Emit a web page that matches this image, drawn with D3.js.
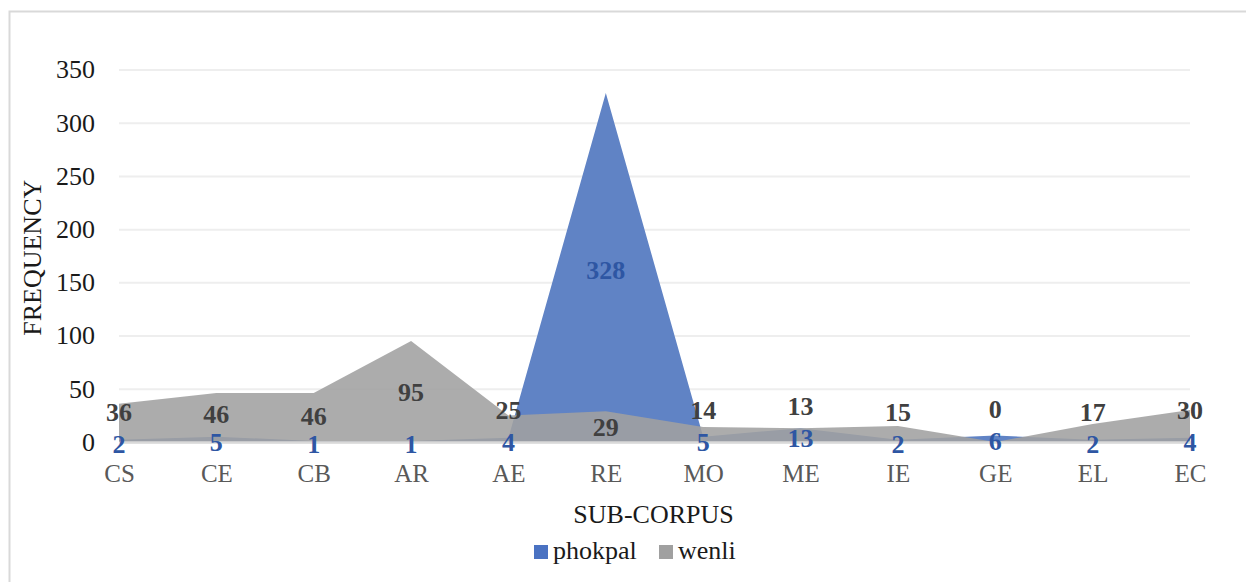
<!DOCTYPE html>
<html>
<head>
<meta charset="utf-8">
<script src="https://cdn.jsdelivr.net/npm/d3@7"></script>
<style>
  html, body { margin: 0; padding: 0; background: #fff; }
  svg { display: block; }
  text { font-family: "Liberation Serif", "Times New Roman", serif; }
</style>
</head>
<body>
<svg id="chart" width="1246" height="582"></svg>
<script>
// Sub-corpus categories and per-series frequencies
const categories = ["CS", "CE", "CB", "AR", "AE", "RE", "MO", "ME", "IE", "GE", "EL", "EC"];
const phokpal = [2, 5, 1, 1, 4, 328, 5, 13, 2, 6, 2, 4];
const wenli = [36, 46, 46, 95, 25, 29, 14, 13, 15, 0, 17, 30];
const yTicks = [0, 50, 100, 150, 200, 250, 300, 350];
const seriesNames = ["phokpal", "wenli"];

const W = 1246, H = 582;
const plot = { left: 119, right: 1190, top: 69.5, bottom: 442 };

const svg = d3.select("#chart");

// Chart frame
svg.append("rect")
  .attr("x", 9.5).attr("y", 11.5)
  .attr("width", W + 20).attr("height", H + 20)
  .attr("fill", "#fff").attr("stroke", "#d9d9d9").attr("stroke-width", 2);

const x = d3.scalePoint().domain(categories).range([plot.left, plot.right]).padding(0);
const y = d3.scaleLinear().domain([0, 350]).range([plot.bottom, plot.top]);

// Horizontal gridlines and value labels
const yAxis = d3.axisLeft(y).tickValues(yTicks).tickSize(-(plot.right - plot.left)).tickPadding(24);
const gy = svg.append("g").attr("transform", `translate(${plot.left},0)`).call(yAxis);
gy.select(".domain").remove();
gy.selectAll(".tick line").attr("stroke", "#eeeeee").attr("stroke-width", 2);
gy.selectAll(".tick text")
  .attr("font-family", "Liberation Serif, Times New Roman, serif")
  .attr("font-size", 26).attr("fill", "#1a1a1a");

// Areas: phokpal beneath, wenli semi-transparent on top
const area = d3.area()
  .x((d, i) => x(categories[i]))
  .y0(y(0))
  .y1(d => y(d));

svg.append("path").datum(phokpal)
  .attr("d", area)
  .attr("fill", "#6083c5");

svg.append("path").datum(wenli)
  .attr("d", area)
  .attr("fill", "#a0a0a0").attr("fill-opacity", 0.88);

// Category axis
const xAxis = d3.axisBottom(x).tickSize(0).tickPadding(22);
const gx = svg.append("g").attr("transform", `translate(0,${plot.bottom})`).call(xAxis);
gx.select(".domain").attr("stroke", "#d9d9d9").attr("stroke-width", 2.5);
gx.selectAll(".tick text")
  .attr("font-family", "Liberation Serif, Times New Roman, serif")
  .attr("font-size", 25).attr("fill", "#595959");

// Data labels: centred at half the value
const blueY = phokpal.map(v => y(v / 2) + 2.5);
svg.append("g").selectAll("text").data(phokpal).join("text")
  .attr("x", (d, i) => x(categories[i]))
  .attr("y", (d, i) => blueY[i])
  .attr("dy", "0.35em")
  .attr("text-anchor", "middle")
  .attr("font-size", 26).attr("font-weight", "bold")
  .attr("fill", "#2e56a3")
  .text(d => d);

// wenli labels lifted clear of a phokpal label at the same category
svg.append("g").selectAll("text").data(wenli).join("text")
  .attr("x", (d, i) => x(categories[i]))
  .attr("y", (d, i) => {
    const yy = y(d / 2);
    const gap = Math.abs(yy - blueY[i]);
    if (gap < 22) return blueY[i] - 32;
    if (gap < 28) return blueY[i] - 28;
    return yy;
  })
  .attr("dy", "0.35em")
  .attr("text-anchor", "middle")
  .attr("font-size", 26).attr("font-weight", "bold")
  .attr("fill", "#404040")
  .text(d => d);

// Axis titles
svg.append("text")
  .attr("x", (plot.left + plot.right) / 2 - 1).attr("y", 523)
  .attr("text-anchor", "middle")
  .attr("font-size", 26).attr("fill", "#1a1a1a")
  .text("SUB-CORPUS");

svg.append("text")
  .attr("transform", `translate(41,${(plot.top + plot.bottom) / 2 + 2}) rotate(-90)`)
  .attr("text-anchor", "middle")
  .attr("font-size", 26).attr("fill", "#1a1a1a")
  .text("FREQUENCY");

// Legend
const legendColors = ["#4a72c2", "#a0a0a0"];
const legendX = [534, 659];
const lg = svg.append("g");
seriesNames.forEach((name, i) => {
  lg.append("rect")
    .attr("x", legendX[i]).attr("y", 545)
    .attr("width", 14).attr("height", 14)
    .attr("fill", legendColors[i]);
  lg.append("text")
    .attr("x", legendX[i] + 19).attr("y", 559)
    .attr("font-size", 26).attr("fill", "#1a1a1a")
    .text(name);
});
</script>
</body>
</html>
